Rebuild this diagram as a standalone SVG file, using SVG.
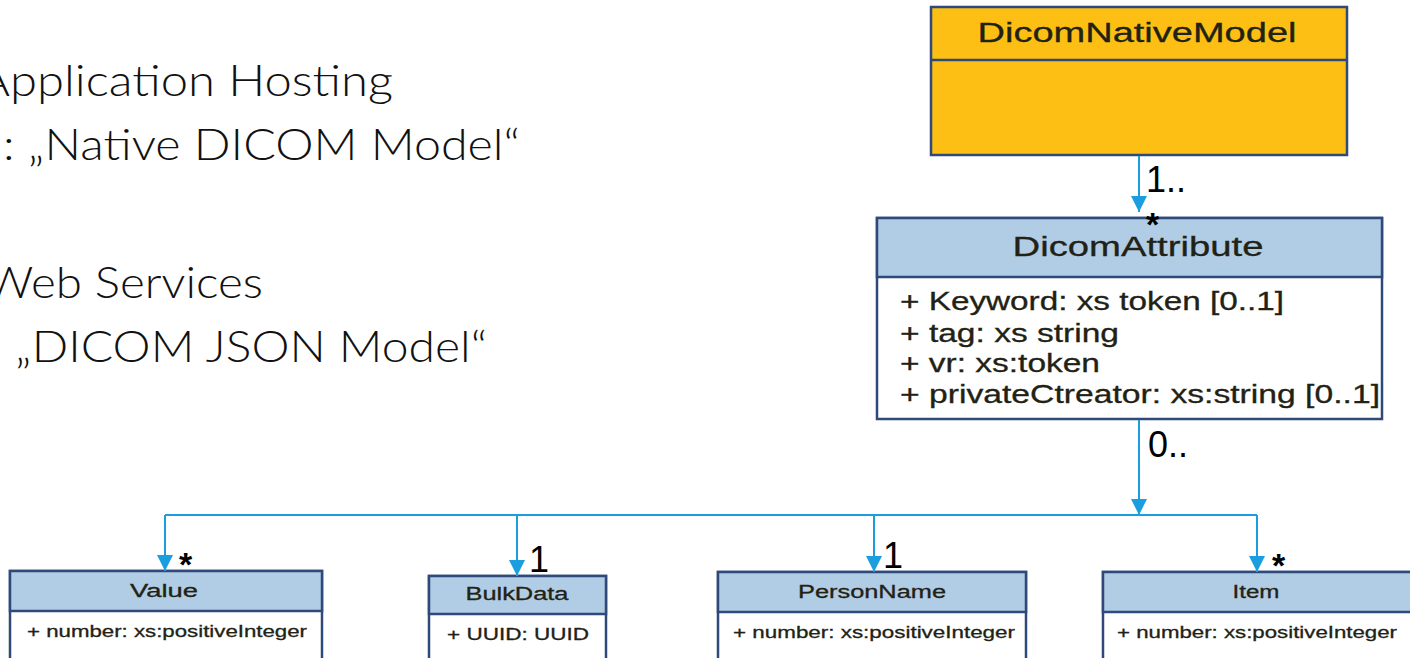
<svg xmlns="http://www.w3.org/2000/svg" width="1410" height="658" viewBox="0 0 1410 658">
<style>
.bg{fill:#ffffff}
.big{font-family:Lato,"Open Sans","Liberation Sans",sans-serif;font-weight:300;font-size:43px;fill:#111}
.box{stroke:#2f4a78;stroke-width:2.5}
.hdr{fill:#b1cce5}
.body{fill:#ffffff}
.orange{fill:#fdbf14}
.t{font-family:"Liberation Sans",Arial,sans-serif;fill:#222214;stroke:#222214;stroke-width:0.3}
.title{font-size:27px;text-anchor:middle}
.attr{font-size:25px}
.stitle{font-size:18px;text-anchor:middle}
.sattr{font-size:17px}
.mult{font-family:"Liberation Sans",Arial,sans-serif;font-size:36px;fill:#000}
.star{font-weight:bold;font-size:34px}
.conn{stroke:#1b9ee0;stroke-width:2;fill:none}
</style>
<defs>
<marker id="ahb" viewBox="0 0 10 10" refX="10" refY="5" markerWidth="16" markerHeight="18" markerUnits="userSpaceOnUse" orient="auto">
<path d="M0,0 L10,5 L0,10 z" fill="#1b9ee0"/>
</marker>
</defs>
<rect class="bg" x="0" y="0" width="1410" height="658"/>

<g id="intro-text">
<text class="big" x="393" y="96" text-anchor="end" textLength="415" lengthAdjust="spacingAndGlyphs">Application Hosting</text>
<text class="big" x="520" y="160" text-anchor="end" textLength="517" lengthAdjust="spacingAndGlyphs">: „Native DICOM Model“</text>
<text class="big" x="263" y="298" text-anchor="end" textLength="278" lengthAdjust="spacingAndGlyphs">Web Services</text>
<text class="big" x="487" y="362" text-anchor="end" textLength="472" lengthAdjust="spacingAndGlyphs">„DICOM JSON Model“</text>
</g>

<g id="DicomNativeModel">
<rect class="box orange" x="931" y="7" width="416" height="148"/>
<line class="box" x1="931" y1="60" x2="1347" y2="60"/>
<text class="t title" x="1137" y="42" textLength="319" lengthAdjust="spacingAndGlyphs">DicomNativeModel</text>
</g>

<g id="DicomAttribute">
<rect class="box body" x="877" y="218" width="505" height="201"/>
<rect class="box hdr" x="877" y="218" width="505" height="59"/>
<text class="t title" x="1138" y="256" textLength="251" lengthAdjust="spacingAndGlyphs">DicomAttribute</text>
<text class="t attr" x="900" y="310" textLength="384" lengthAdjust="spacingAndGlyphs">+ Keyword: xs token [0..1]</text>
<text class="t attr" x="900" y="342" textLength="219" lengthAdjust="spacingAndGlyphs">+ tag: xs string</text>
<text class="t attr" x="900" y="372" textLength="200" lengthAdjust="spacingAndGlyphs">+ vr: xs:token</text>
<text class="t attr" x="900" y="403" textLength="480" lengthAdjust="spacingAndGlyphs">+ privateCtreator: xs:string [0..1]</text>
</g>

<g id="Value">
<rect class="box body" x="10" y="571" width="312" height="92"/>
<rect class="box hdr" x="10" y="571" width="312" height="40"/>
<text class="t stitle" x="164" y="597" textLength="68" lengthAdjust="spacingAndGlyphs">Value</text>
<text class="t sattr" x="27" y="637" textLength="280" lengthAdjust="spacingAndGlyphs">+ number: xs:positiveInteger</text>
</g>

<g id="BulkData">
<rect class="box body" x="429" y="576" width="177" height="90"/>
<rect class="box hdr" x="429" y="576" width="177" height="38"/>
<text class="t stitle" x="517" y="600" textLength="103" lengthAdjust="spacingAndGlyphs">BulkData</text>
<text class="t sattr" x="447" y="640" textLength="142" lengthAdjust="spacingAndGlyphs">+ UUID: UUID</text>
</g>

<g id="PersonName">
<rect class="box body" x="718" y="572" width="308" height="92"/>
<rect class="box hdr" x="718" y="572" width="308" height="40"/>
<text class="t stitle" x="872" y="598" textLength="148" lengthAdjust="spacingAndGlyphs">PersonName</text>
<text class="t sattr" x="733" y="638" textLength="282" lengthAdjust="spacingAndGlyphs">+ number: xs:positiveInteger</text>
</g>

<g id="Item">
<rect class="box body" x="1103" y="572" width="310" height="92"/>
<rect class="box hdr" x="1103" y="572" width="310" height="40"/>
<text class="t stitle" x="1256" y="598" textLength="47" lengthAdjust="spacingAndGlyphs">Item</text>
<text class="t sattr" x="1117" y="638" textLength="280" lengthAdjust="spacingAndGlyphs">+ number: xs:positiveInteger</text>
</g>

<g id="connectors">
<line class="conn" x1="1139" y1="156" x2="1139" y2="212" marker-end="url(#ahb)"/>
<line class="conn" x1="1139" y1="420" x2="1139" y2="515" marker-end="url(#ahb)"/>
<polyline class="conn" points="165,515 1257,515"/>
<line class="conn" x1="165" y1="515" x2="165" y2="571" marker-end="url(#ahb)"/>
<line class="conn" x1="517" y1="515" x2="517" y2="576" marker-end="url(#ahb)"/>
<line class="conn" x1="874" y1="515" x2="874" y2="572" marker-end="url(#ahb)"/>
<line class="conn" x1="1257" y1="515" x2="1257" y2="572" marker-end="url(#ahb)"/>
<text class="mult" x="1146" y="192">1..</text>
<text class="mult star" x="1146" y="236">*</text>
<text class="mult" x="1148" y="457">0..</text>
<text class="mult star" x="179" y="576">*</text>
<text class="mult" x="529" y="572">1</text>
<text class="mult" x="883" y="568">1</text>
<text class="mult star" x="1272" y="577">*</text>
</g>
</svg>
